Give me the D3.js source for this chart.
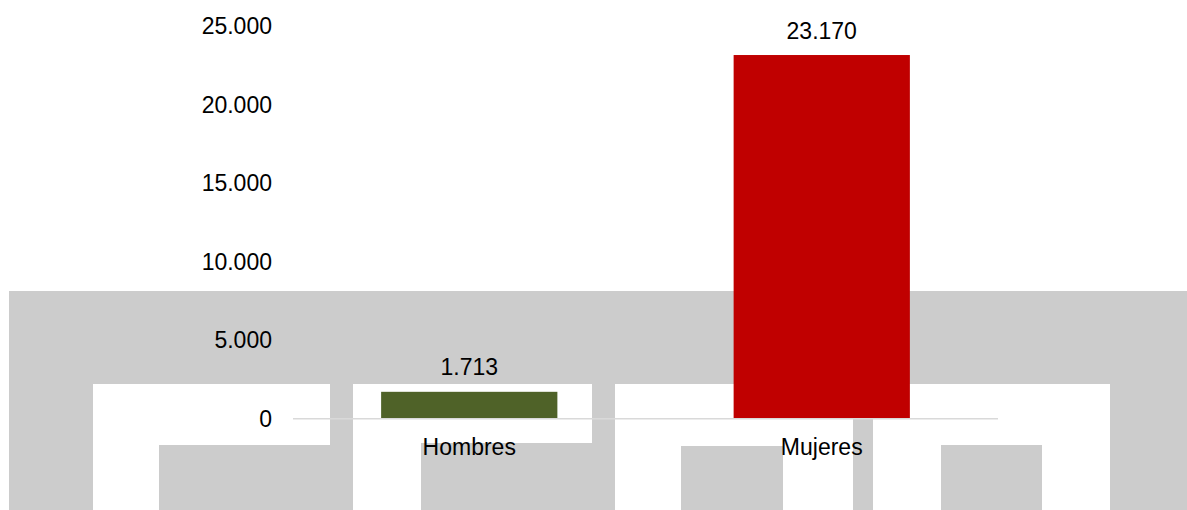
<!DOCTYPE html>
<html>
<head>
<meta charset="utf-8">
<script src="https://cdn.jsdelivr.net/npm/d3@7"></script>
<style>
  html, body { margin: 0; padding: 0; background: #ffffff; }
  svg { display: block; }
  text { font-family: "Liberation Sans", Arial, sans-serif; fill: #000; }
</style>
</head>
<body>
<svg id="chart" width="1187" height="510"></svg>
<script>
// ---- data ----
const categories = ["Hombres", "Mujeres"];
const values = [1713, 23170];
const barColors = ["#4f6228", "#c00000"];
const yTicks = [0, 5000, 10000, 15000, 20000, 25000];

const W = 1187, H = 510;
const svg = d3.select("#chart");

// ---- decorative background (watermark) ----
const bg = svg.append("g");
const decor = [
  {x: 9, y: 291, w: 1178, h: 219, c: "#cccccc"},
  {x: 93, y: 384, w: 237, h: 61, c: "#ffffff"},
  {x: 93, y: 445, w: 66, h: 65, c: "#ffffff"},
  {x: 353, y: 384, w: 239, h: 59, c: "#ffffff"},
  {x: 353, y: 443, w: 68, h: 67, c: "#ffffff"},
  {x: 615, y: 384, w: 495, h: 126, c: "#ffffff"},
  {x: 681, y: 446, w: 102, h: 64, c: "#cccccc"},
  {x: 853, y: 384, w: 20, h: 126, c: "#cccccc"},
  {x: 941, y: 445, w: 101, h: 65, c: "#cccccc"}
];
bg.selectAll("rect").data(decor).join("rect")
  .attr("x", d => d.x).attr("y", d => d.y)
  .attr("width", d => d.w).attr("height", d => d.h)
  .attr("fill", d => d.c);

// ---- scales ----
const plot = {left: 293, right: 998, top: 26.3, bottom: 418.7};
const x = d3.scaleBand().domain(categories)
  .range([plot.left, plot.right]).paddingInner(0.5).paddingOuter(0.25);
const y = d3.scaleLinear().domain([0, 25000]).range([plot.bottom, plot.top]);

const fmt = v => d3.format(",")(v).replace(/,/g, ".");

// ---- y axis labels ----
const yAxis = d3.axisLeft(y).tickValues(yTicks).tickSize(0).tickPadding(21).tickFormat(fmt);
const gy = svg.append("g").attr("transform", `translate(${plot.left},0)`).call(yAxis);
gy.select(".domain").remove();
gy.selectAll("text").attr("font-size", 23).attr("fill", "#000")
  .attr("font-family", "'Liberation Sans', Arial, sans-serif")
  .attr("dy", "0.32em");

// ---- bars ----
svg.append("g").selectAll("rect").data(categories).join("rect")
  .attr("x", d => x(d))
  .attr("y", (d, i) => y(values[i]))
  .attr("width", x.bandwidth())
  .attr("height", (d, i) => y(0) - y(values[i]))
  .attr("fill", (d, i) => barColors[i]);

// ---- zero line / x axis ----
const xAxis = d3.axisBottom(x).tickSize(0).tickPadding(20);
const gx = svg.append("g").attr("transform", `translate(0,${y(0)})`).call(xAxis);
gx.select(".domain").attr("stroke", "#d9d9d9").attr("stroke-width", 1.5)
  .attr("d", `M${plot.left},0H${plot.right}`);
gx.selectAll("text").attr("font-size", 23).attr("fill", "#000")
  .attr("font-family", "'Liberation Sans', Arial, sans-serif");

// ---- value labels ----
svg.append("g").selectAll("text").data(categories).join("text")
  .attr("x", d => x(d) + x.bandwidth() / 2)
  .attr("y", (d, i) => y(values[i]) - 16.5)
  .attr("text-anchor", "middle")
  .attr("font-size", 23)
  .text((d, i) => fmt(values[i]));
</script>
</body>
</html>
